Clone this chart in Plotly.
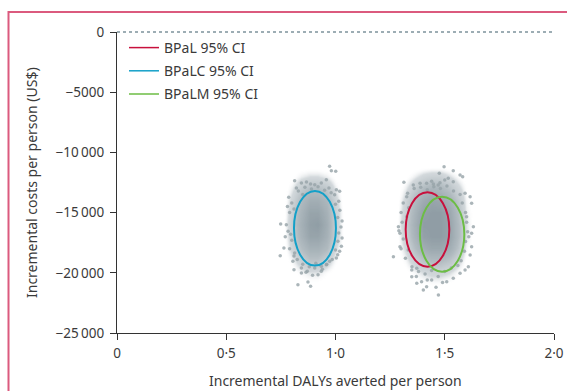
import plotly.graph_objects as go

# ---------------- data ----------------
series_names = ["BPaL 95% CI", "BPaLC 95% CI", "BPaLM 95% CI"]
series_colors = ["#c8103c", "#14a0c8", "#6cbd45"]
# 95% CI ellipses: centre and half-axes
ell_cx = [1.421, 0.906, 1.488]
ell_cy = [-16400, -16300, -16790]
ell_rx = [0.0998, 0.096, 0.1015]
ell_ry = [3090, 3100, 3115]

# density of simulated points (cloud cores), read as relative shading
left_x = [0.76, 0.80, 0.84, 0.88, 0.92, 0.96, 1.00, 1.04]
left_y = [-11000, -12000, -13000, -14000, -15000, -16000, -17000, -18000,
          -19000, -20000, -21000, -22000]
left_z = [
    [0, 0, 0, 0, 0, 0, 0, 0],
    [0, 0.05, 0.15, 0.2, 0.2, 0.15, 0.05, 0],
    [0, 0.15, 0.35, 0.5, 0.5, 0.4, 0.15, 0],
    [0, 0.25, 0.55, 0.75, 0.75, 0.6, 0.25, 0],
    [0.02, 0.3, 0.65, 0.9, 0.9, 0.7, 0.3, 0.02],
    [0.02, 0.35, 0.7, 0.95, 1.0, 0.75, 0.3, 0.02],
    [0.02, 0.3, 0.65, 0.9, 0.9, 0.7, 0.3, 0.02],
    [0, 0.25, 0.5, 0.7, 0.7, 0.55, 0.2, 0],
    [0, 0.12, 0.3, 0.45, 0.45, 0.3, 0.1, 0],
    [0, 0.04, 0.12, 0.18, 0.18, 0.1, 0.03, 0],
    [0, 0, 0.02, 0.04, 0.04, 0.02, 0, 0],
    [0, 0, 0, 0, 0, 0, 0, 0],
]
right_x = [1.28, 1.32, 1.36, 1.40, 1.44, 1.48, 1.52, 1.56, 1.60, 1.64]
right_y = left_y
right_z = [
    [0, 0, 0, 0, 0, 0, 0, 0, 0, 0],
    [0, 0.05, 0.15, 0.25, 0.3, 0.3, 0.2, 0.1, 0.03, 0],
    [0, 0.15, 0.35, 0.55, 0.65, 0.6, 0.45, 0.25, 0.08, 0],
    [0.02, 0.25, 0.55, 0.8, 0.9, 0.85, 0.7, 0.4, 0.12, 0],
    [0.03, 0.3, 0.65, 0.95, 1.0, 1.0, 0.85, 0.5, 0.15, 0.02],
    [0.03, 0.35, 0.7, 1.0, 1.0, 1.0, 0.9, 0.55, 0.18, 0.02],
    [0.03, 0.3, 0.65, 0.95, 1.0, 1.0, 0.9, 0.55, 0.18, 0.02],
    [0.02, 0.22, 0.5, 0.75, 0.85, 0.85, 0.75, 0.45, 0.12, 0],
    [0, 0.12, 0.3, 0.45, 0.55, 0.55, 0.45, 0.25, 0.06, 0],
    [0, 0.04, 0.12, 0.2, 0.25, 0.25, 0.2, 0.1, 0.02, 0],
    [0, 0, 0.03, 0.06, 0.08, 0.08, 0.05, 0.02, 0, 0],
    [0, 0, 0, 0, 0, 0, 0, 0, 0, 0],
]

# scattered simulated points around the cores (BPaLC cloud, then BPaL/BPaLM cloud)
pts_x = [0.973, 0.981, 1.001, 0.958, 0.813, 0.844, 0.867, 0.886, 0.905, 0.935,
         0.786, 0.821, 1.004, 1.019, 0.996, 1.015, 0.749, 0.783, 1.030, 0.764,
         0.813, 1.011, 0.747, 1.027, 0.805, 0.844, 0.871, 0.905, 0.935, 0.973,
         0.810, 0.844, 0.920, 0.874, 0.886, 0.828, 0.935, 0.958, 1.004, 1.019,
         0.83, 0.86, 0.89, 0.92, 0.95, 0.98, 0.85, 0.97,
         0.80, 0.79, 0.81, 1.00, 1.02, 1.01, 0.78,
         0.775, 0.795, 0.80, 1.025, 1.015, 1.03, 0.77,
         0.79, 0.81, 1.00, 1.01, 0.985, 0.825,
         0.85, 0.88, 0.91, 0.94, 0.96, 0.865, 0.895,
         1.497, 1.539, 1.570, 1.582, 1.475, 1.516, 1.539, 1.313, 1.356, 1.387,
         1.417, 1.448, 1.478, 1.593, 1.616, 1.623, 1.600, 1.631, 1.623, 1.608,
         1.288, 1.295, 1.265, 1.333, 1.326, 1.326, 1.349, 1.372, 1.394, 1.417,
         1.440, 1.471, 1.509, 1.539, 1.570, 1.593, 1.402, 1.349, 1.372, 1.616,
         1.295, 1.623,
         1.36, 1.39, 1.42, 1.45, 1.48, 1.51, 1.54, 1.57, 1.33, 1.44, 1.50, 1.47,
         1.31, 1.30, 1.305, 1.29, 1.31, 1.30, 1.32, 1.335,
         1.58, 1.595, 1.60, 1.605, 1.595, 1.59, 1.575, 1.61,
         1.35, 1.38, 1.41, 1.44, 1.47, 1.50, 1.53, 1.56, 1.42, 1.49, 1.46, 1.37]
pts_y = [-11150, -11520, -11570, -12265, -12350, -12540, -12460, -12625, -12680, -12540,
         -13730, -12960, -13100, -13230, -13510, -14065, -15950, -16555, -17110, -17940,
         -18355, -17385, -18580, -17800, -19045, -19600, -19880, -19600, -19460, -19045,
         -19740, -20020, -20155, -20765, -21125, -20985, -19880, -19325, -18770, -18215,
         -13200, -12900, -13050, -12850, -13150, -13350, -13500, -12950,
         -14200, -15000, -14700, -14300, -14800, -15400, -14500,
         -16000, -16800, -17300, -16200, -16700, -15700, -17000,
         -18000, -18600, -18100, -18500, -18900, -18900,
         -19300, -19500, -19200, -19700, -19300, -19950, -20200,
         -11185, -11520, -11880, -12015, -11740, -12155, -12430, -12485, -12710, -12570,
         -12570, -12625, -12515, -13400, -13675, -14230, -15340, -16170, -17830, -19490,
         -16170, -17830, -18660, -18105, -15340, -13675, -20320, -20875, -20740, -21155,
         -20600, -21845, -20740, -20460, -20045, -19770, -21430, -19770, -19630, -18520,
         -16720, -16720,
         -13000, -12900, -13100, -12850, -13000, -12800, -13200, -13500, -13400, -12400, -12300, -12700,
         -14200, -15000, -15800, -16500, -17200, -18000, -18800, -14600,
         -14200, -15000, -15800, -16600, -17400, -18200, -19000, -17000,
         -19500, -19900, -20100, -19800, -20300, -19900, -19600, -19400, -20600, -20800, -21200, -20300]

x_tickvals = [0, 0.5, 1.0, 1.5, 2.0]
x_ticktext = ["0", "0·5", "1·0", "1·5", "2·0"]
y_tickvals = [0, -5000, -10000, -15000, -20000, -25000]
y_ticktext = ["0", "\u22125000", "\u221210\u2009000", "\u221215\u2009000",
              "\u221220\u2009000", "\u221225\u2009000"]
x_title = "Incremental DALYs averted per person"
y_title = "Incremental costs per person (US$)"

# ---------------- figure ----------------
W, H = 567, 391
L, R, T, B = 117, 567 - 554, 32, 391 - 333
pw, ph = W - L - R, H - T - B


def px_to_paper_x(px):  # px in window coordinates
    return (px - L) / pw


def px_to_paper_y(py):
    return (H - B - py) / ph


FONT = "Noto Sans"
TXT = "#3a3a3a"
cloud_scale = [[0, "rgba(255,255,255,0)"], [0.06, "rgba(255,255,255,0)"],
               [0.2, "rgba(175,185,191,0.55)"], [0.55, "rgba(162,174,180,0.85)"],
               [1, "rgba(138,152,160,0.95)"]]

fig = go.Figure()
for hx, hy, hz in [(left_x, left_y, left_z), (right_x, right_y, right_z)]:
    fig.add_trace(go.Heatmap(x=hx, y=hy, z=hz, zmin=0, zmax=1, zsmooth="best",
                             colorscale=cloud_scale, showscale=False,
                             hoverinfo="skip"))
fig.add_trace(go.Scatter(x=pts_x, y=pts_y, mode="markers", showlegend=False,
                         marker=dict(size=3.5, color="rgba(150,162,168,0.8)")))

for i, name in enumerate(series_names):
    fig.add_trace(go.Scatter(x=[None], y=[None], mode="lines", name=name,
                             legendgroup=name,
                             line=dict(color=series_colors[i], width=1.5)))
    fig.add_shape(type="circle", xref="x", yref="y",
                  x0=ell_cx[i] - ell_rx[i], x1=ell_cx[i] + ell_rx[i],
                  y0=ell_cy[i] - ell_ry[i], y1=ell_cy[i] + ell_ry[i],
                  line=dict(color=series_colors[i], width=2), layer="above")

# dashed zero line
fig.add_shape(type="line", xref="paper", yref="paper", x0=0, x1=1.002, y0=1, y1=1,
              line=dict(color="#7d939c", width=1.5, dash="3px,3px"))
# frame (top and left, pink)
fig.add_shape(type="line", xref="paper", yref="paper",
              x0=px_to_paper_x(8.5), x1=px_to_paper_x(580),
              y0=px_to_paper_y(12), y1=px_to_paper_y(12),
              line=dict(color="#db5a7e", width=2))
fig.add_shape(type="line", xref="paper", yref="paper",
              x0=px_to_paper_x(8.5), x1=px_to_paper_x(8.5),
              y0=px_to_paper_y(11), y1=px_to_paper_y(400),
              line=dict(color="#db5a7e", width=2))

fig.add_annotation(text=x_title, xref="paper", yref="paper",
                   x=px_to_paper_x(335), y=px_to_paper_y(380),
                   showarrow=False, font=dict(family=FONT, size=14, color=TXT),
                   xanchor="center", yanchor="middle")
fig.add_annotation(text=y_title, xref="paper", yref="paper",
                   x=px_to_paper_x(31), y=px_to_paper_y(183), textangle=-90,
                   showarrow=False, font=dict(family=FONT, size=14, color=TXT),
                   xanchor="center", yanchor="middle")

axis_common = dict(showgrid=False, zeroline=False, showline=True,
                   linecolor="#333333", linewidth=1.2, ticks="outside",
                   ticklen=6, tickwidth=1.2, tickcolor="#333333",
                   tickfont=dict(family=FONT, size=13.5, color=TXT), fixedrange=True)
fig.update_xaxes(range=[0, 2], tickvals=x_tickvals, ticktext=x_ticktext,
                 ticklabelstandoff=2, **axis_common)
fig.update_yaxes(range=[-25000, 0], tickvals=y_tickvals, ticktext=y_ticktext,
                 ticklabelstandoff=3, **axis_common)

fig.update_layout(
    width=W, height=H, margin=dict(l=L, r=R, t=T, b=B, autoexpand=False),
    paper_bgcolor="white", plot_bgcolor="white",
    font=dict(family=FONT, size=14, color=TXT),
    legend=dict(x=px_to_paper_x(124), y=px_to_paper_y(32), xanchor="left",
                yanchor="top", bgcolor="rgba(0,0,0,0)", tracegroupgap=2,
                traceorder="grouped", font=dict(family=FONT, size=14, color=TXT)),
    showlegend=True,
)

# remove the page's default body margin so the figure fills the window exactly
fig.write_html("out.html",
               config={"displayModeBar": False},
               post_script="document.body.style.margin='0';"
                           "document.body.style.overflow='hidden';")
